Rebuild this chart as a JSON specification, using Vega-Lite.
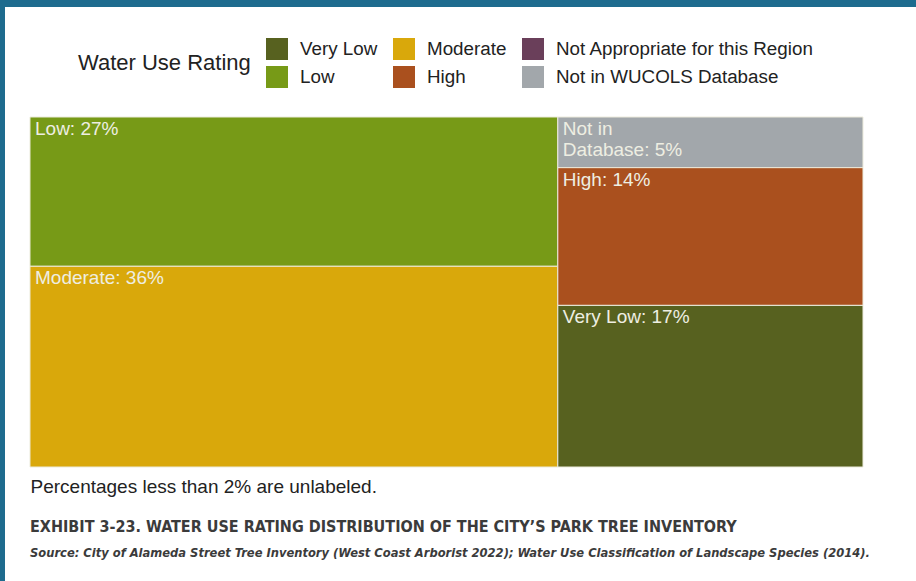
{
  "$schema": "https://vega.github.io/schema/vega-lite/v6.json",
  "autosize": "none",
  "width": 911,
  "height": 574,
  "padding": {"left": 5, "top": 7, "right": 0, "bottom": 0},
  "background": "#1e6b8e",
  "view": {"fill": "white", "stroke": null},
  "title": {
    "text": "EXHIBIT 3-23. WATER USE RATING DISTRIBUTION OF THE CITY’S PARK TREE INVENTORY",
    "subtitle": "Source: City of Alameda Street Tree Inventory (West Coast Arborist 2022); Water Use Classification of Landscape Species (2014).",
    "orient": "top",
    "anchor": "start",
    "frame": "group",
    "dx": 25,
    "dy": 557,
    "font": "Liberation Sans Narrow, DejaVu Sans Condensed, sans-serif",
    "fontSize": 16,
    "fontWeight": "bold",
    "color": "#3b3b3b",
    "subtitleFont": "Liberation Sans Narrow, DejaVu Sans Condensed, sans-serif",
    "subtitleFontSize": 12.8,
    "subtitleFontWeight": "bold",
    "subtitleFontStyle": "italic",
    "subtitleColor": "#3b3b3b",
    "subtitlePadding": 12
  },
  "data": {
    "values": [
      {"rating": "Low", "pct": 27.0, "col": "L", "label": "Low: 27%"},
      {"rating": "Moderate", "pct": 36.3, "col": "L", "label": "Moderate: 36%"},
      {"rating": "Not in WUCOLS Database", "pct": 5.3, "col": "R", "label": "Not in\nDatabase: 5%"},
      {"rating": "High", "pct": 14.4, "col": "R", "label": "High: 14%"},
      {"rating": "Very Low", "pct": 16.9, "col": "R", "label": "Very Low: 17%"}
    ]
  },
  "transform": [
    {"stack": "pct", "groupby": [], "sort": [{"field": "col"}], "offset": "normalize", "as": ["s0", "s1"]},
    {"joinaggregate": [{"op": "min", "field": "s0", "as": "x0"}, {"op": "max", "field": "s1", "as": "x1"}], "groupby": ["col"]},
    {"stack": "pct", "groupby": ["col"], "sort": [{"field": "pct"}], "offset": "normalize", "as": ["y0", "y1"]}
  ],
  "encoding": {
    "x": {
      "field": "x0",
      "type": "quantitative",
      "scale": {"domain": [-0.030012, 1.06363], "nice": false, "zero": false},
      "axis": {
        "domain": false, "ticks": false, "labels": false, "grid": false,
        "title": "Percentages less than 2% are unlabeled.",
        "titleFont": "Liberation Sans, Arial, sans-serif",
        "titleFontSize": 19,
        "titleFontWeight": "normal",
        "titleColor": "#222222",
        "titleAnchor": "start",
        "titleAlign": "left",
        "titleBaseline": "alphabetic",
        "titleX": 25,
        "titleY": -89
      }
    },
    "y": {
      "field": "y0",
      "type": "quantitative",
      "scale": {"domain": [-0.314286, 1.325714], "reverse": true, "nice": false, "zero": false},
      "axis": null
    }
  },
  "layer": [
    {
      "mark": {"type": "rect", "stroke": "#ecebdc", "strokeWidth": 1},
      "encoding": {
        "x2": {"field": "x1"},
        "y2": {"field": "y1"},
        "color": {
          "field": "rating",
          "type": "nominal",
          "title": "Water Use Rating",
          "scale": {
            "domain": ["Very Low", "Moderate", "Not Appropriate for this Region", "Low", "High", "Not in WUCOLS Database"],
            "range": ["#57611f", "#d9a80b", "#6a3f5a", "#779a17", "#aa501e", "#a2a7ab"]
          },
          "legend": {
            "orient": "none",
            "legendX": 73,
            "legendY": 31,
            "columns": 3,
            "direction": "horizontal",
            "symbolType": "square",
            "symbolSize": 484,
            "symbolStrokeWidth": 0,
            "symbolOpacity": 1,
            "titleOrient": "left",
            "titleAnchor": "middle",
            "titleBaseline": "middle",
            "titleFont": "Liberation Sans, Arial, sans-serif",
            "titleFontSize": 22,
            "titleFontWeight": "normal",
            "titleColor": "#222222",
            "titlePadding": 15,
            "labelFont": "Liberation Sans, Arial, sans-serif",
            "labelFontSize": 18.8,
            "labelColor": "#222222",
            "labelOffset": 12,
            "labelLimit": 400,
            "columnPadding": 15,
            "rowPadding": 6
          }
        }
      }
    },
    {
      "mark": {
        "type": "text",
        "align": "left",
        "baseline": "top",
        "dx": 5,
        "dy": 3,
        "font": "Liberation Sans, Arial, sans-serif",
        "fontSize": 19,
        "lineBreak": "\n",
        "lineHeight": 21,
        "color": "#eeeee2"
      },
      "encoding": {
        "text": {"field": "label"}
      }
    }
  ]
}
